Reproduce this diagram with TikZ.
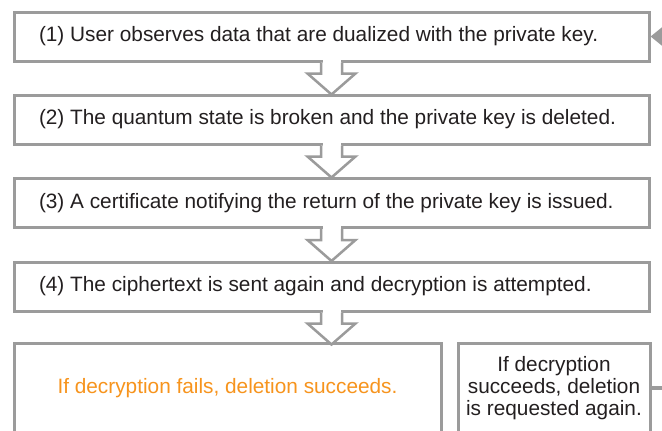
\documentclass[tikz,border=0pt]{standalone}
\usepackage{fontspec}
\setmainfont{Liberation Sans}
\usetikzlibrary{arrows.meta}
\definecolor{frame}{HTML}{9B9B9B}
\definecolor{ink}{HTML}{231F20}
\definecolor{okorange}{HTML}{F7941D}
\newcommand{\steptext}[1]{\makebox[585pt][l]{#1}}
\tikzset{
  stepbox/.style={draw=frame, line width=3pt, fill=white, inner sep=0pt,
    text=ink, font=\fontsize{20.8}{22}\selectfont, align=center},
  widebox/.style={stepbox, inner xsep=25pt, minimum height=49pt},
  feedback/.style={draw=frame, line width=3.5pt,
    -{Triangle[length=13pt,width=20pt]}},
  pics/downarrow/.style={code={
    \fill[white] (-9,-3) rectangle (9,2);
    \draw[frame, line width=2.5pt, fill=white, line join=miter]
      (-10.5,0) -- (-10.5,11) -- (-24,11) -- (0,32) -- (24,11) -- (10.5,11) -- (10.5,0);
  }}
}
\begin{document}
\begin{tikzpicture}[x=1pt,y=-1pt]
\useasboundingbox (0,0) rectangle (662,431);

\node[widebox] (s1) at (331.5,36.5)
  {\steptext{(1) User observes data that are dualized with the private key.}};
\node[widebox] (s2) at (331.5,119.5)
  {\steptext{(2) The quantum state is broken and the private key is deleted.}};
\node[widebox] (s3) at (331.5,203)
  {\steptext{(3) A certificate notifying the return of the private key is issued.}};
\node[widebox] (s4) at (331.5,286.5)
  {\steptext{(4) The ciphertext is sent again and decryption is attempted.}};

\node[stepbox, minimum width=427pt, minimum height=90pt, text=okorange] (fail) at (227.5,388)
  {If decryption fails, deletion succeeds.};
\node[stepbox, minimum width=192pt, minimum height=90pt] (again) at (554,388)
  {If decryption\\succeeds, deletion\\is requested again.};

\pic at (s1.south) {downarrow};
\pic at (s2.south) {downarrow};
\pic at (s3.south) {downarrow};
\pic at (s4.south) {downarrow};

\draw[feedback] (again.east) -- ++(30,0) |- (s1.east);
\end{tikzpicture}
\end{document}
